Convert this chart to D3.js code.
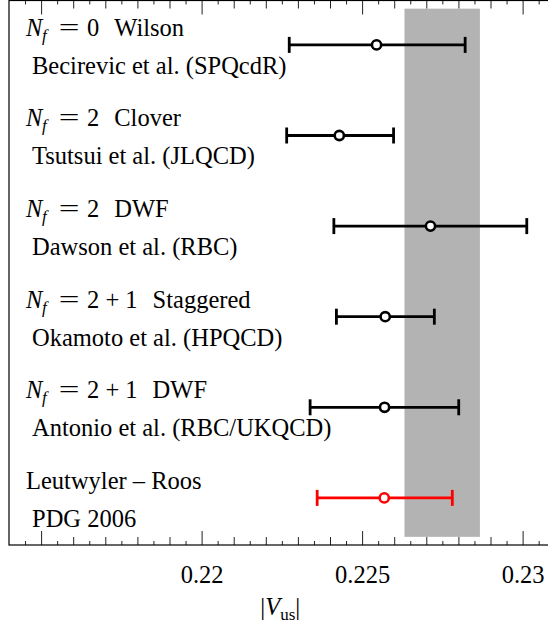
<!DOCTYPE html>
<html>
<head>
<meta charset="utf-8">
<script src="https://cdn.jsdelivr.net/npm/d3@7"></script>
<style>
  html, body { margin: 0; padding: 0; background: #fff; }
  svg { display: block; }
  svg text { font-family: "Liberation Serif", "Times New Roman", serif; fill: #000; }
</style>
</head>
<body>
<svg id="chart" width="548" height="625"></svg>
<script>
// ---------------- data ----------------
const nfValues = ["0", "2", "2", "2 + 1", "2 + 1", null];
const actions = ["Wilson", "Clover", "DWF", "Staggered", "DWF", null];
const firstLineOther = [null, null, null, null, null, "Leutwyler \u2013 Roos"];
const collaborations = [
  "Becirevic et al. (SPQcdR)",
  "Tsutsui et al. (JLQCD)",
  "Dawson et al. (RBC)",
  "Okamoto et al. (HPQCD)",
  "Antonio et al. (RBC/UKQCD)",
  "PDG 2006"
];
const centralValues = [0.22545, 0.22429, 0.22713, 0.22572, 0.22570, 0.22569];
const lowerValues   = [0.22273, 0.22265, 0.22412, 0.22420, 0.22338, 0.22360];
const upperValues   = [0.22821, 0.22598, 0.23013, 0.22725, 0.22801, 0.22781];
const rowPositions  = [6, 5, 4, 3, 2, 1];
const highlightRow  = 5; // drawn in red
const bandX = [0.22632, 0.22867];
const bandY = [0.57, 6.40];
const tickValuesLabeled = [0.22, 0.225, 0.23];
const tickLabels = ["0.22", "0.225", "0.23"];
const xDomain = [0.214, 0.2309];
const yDomain = [0.48, 6.49];
const xTitleMain = "V";
const xTitleSub = "us";

(function () {
const svg = d3.select("#chart");
const pL = 9, pR = 551.5, pT = 0.5, pB = 545;
const FS = 24.5;
const x = d3.scaleLinear().domain(xDomain).range([pL, pR]);
const y = d3.scaleLinear().domain(yDomain).range([pB, pT]);

// band
svg.append("rect")
  .attr("x", x(bandX[0])).attr("width", x(bandX[1]) - x(bandX[0]))
  .attr("y", y(bandY[1])).attr("height", y(bandY[0]) - y(bandY[1]))
  .attr("fill", "#b3b3b3");

// ticks every 0.0005
const allTicks = d3.range(0, 40).map(i => +(0.2140 + i * 0.0005).toFixed(4))
  .filter(v => v > xDomain[0] && v < xDomain[1]);
function tickLen(v) {
  const k = Math.round(v * 10000);
  if (k % 50 === 0) return 14;
  if (k % 10 === 0) return 8;
  return 4;
}
const bottomAxis = d3.axisBottom(x).tickValues(allTicks).tickSize(0).tickFormat("");
const topAxis = d3.axisTop(x).tickValues(allTicks).tickSize(0).tickFormat("");
const gb = svg.append("g").attr("transform", `translate(0,${pB})`).call(bottomAxis);
const gt = svg.append("g").attr("transform", `translate(0,${pT})`).call(topAxis);
gb.select(".domain").remove(); gt.select(".domain").remove();
gb.selectAll(".tick line").attr("y2", d => -tickLen(d)).attr("stroke", "#222").attr("stroke-width", 1);
gt.selectAll(".tick line").attr("y2", d => tickLen(d)).attr("stroke", "#222").attr("stroke-width", 1);

// frame
svg.append("rect")
  .attr("x", pL).attr("y", pT)
  .attr("width", pR - pL).attr("height", pB - pT)
  .attr("fill", "none").attr("stroke", "#000").attr("stroke-width", 1.2);

// tick labels
const labAxis = d3.axisBottom(x).tickValues(tickValuesLabeled).tickSize(0)
  .tickFormat((d, i) => tickLabels[i]);
const gl = svg.append("g").attr("transform", `translate(0,${pB})`).call(labAxis);
gl.select(".domain").remove();
gl.selectAll("text").attr("y", 38).attr("dy", 0)
  .style("font-size", FS + "px").style("fill", "#000");

// axis title |V_us|
const title = svg.append("text")
  .attr("x", (pL + pR) / 2).attr("y", 615)
  .attr("text-anchor", "middle")
  .style("font-size", FS + "px");
title.append("tspan").text("|");
title.append("tspan").style("font-style", "italic").text(xTitleMain);
title.append("tspan").style("font-size", "17px").attr("dy", 5).text(xTitleSub);
title.append("tspan").attr("dy", -5).text("|");

// error bars + labels
const capH = 8;
rowPositions.forEach((r, i) => {
  const col = i === highlightRow ? "#ff0000" : "#000";
  const g = svg.append("g");
  const yy = y(r);
  g.append("line").attr("x1", x(lowerValues[i])).attr("x2", x(upperValues[i]))
    .attr("y1", yy).attr("y2", yy).attr("stroke", col).attr("stroke-width", 2.8);
  [lowerValues[i], upperValues[i]].forEach(v => {
    g.append("line").attr("x1", x(v)).attr("x2", x(v))
      .attr("y1", yy - capH).attr("y2", yy + capH)
      .attr("stroke", col).attr("stroke-width", 2.8);
  });
  g.append("circle").attr("cx", x(centralValues[i])).attr("cy", yy).attr("r", 4.6)
    .attr("fill", "#fff").attr("stroke", col).attr("stroke-width", 2.6);

  const b = yy - 9;
  if (nfValues[i] !== null) {
    const lg = svg.append("g");
    lg.append("text").attr("x", 26).attr("y", b).style("font-size", FS + "px")
      .style("font-style", "italic").text("N");
    lg.append("text").attr("x", 42).attr("y", b + 5).style("font-size", "17px")
      .style("font-style", "italic").text("f");
    lg.append("text").attr("transform", `translate(69,${b}) scale(1.5,1)`)
      .attr("text-anchor", "middle").style("font-size", FS + "px").text("=");
    const nt = lg.append("text").attr("x", 87).attr("y", b).style("font-size", FS + "px")
      .text(nfValues[i]);
    const w = nt.node().getComputedTextLength();
    lg.append("text").attr("x", 87 + w + 15).attr("y", b).style("font-size", FS + "px")
      .text(actions[i]);
  } else {
    svg.append("text").attr("x", 26).attr("y", b).style("font-size", FS + "px")
      .text(firstLineOther[i]);
  }
  svg.append("text").attr("x", 32).attr("y", yy + 29).style("font-size", FS + "px")
    .text(collaborations[i]);
});
})();
</script>
</body>
</html>
